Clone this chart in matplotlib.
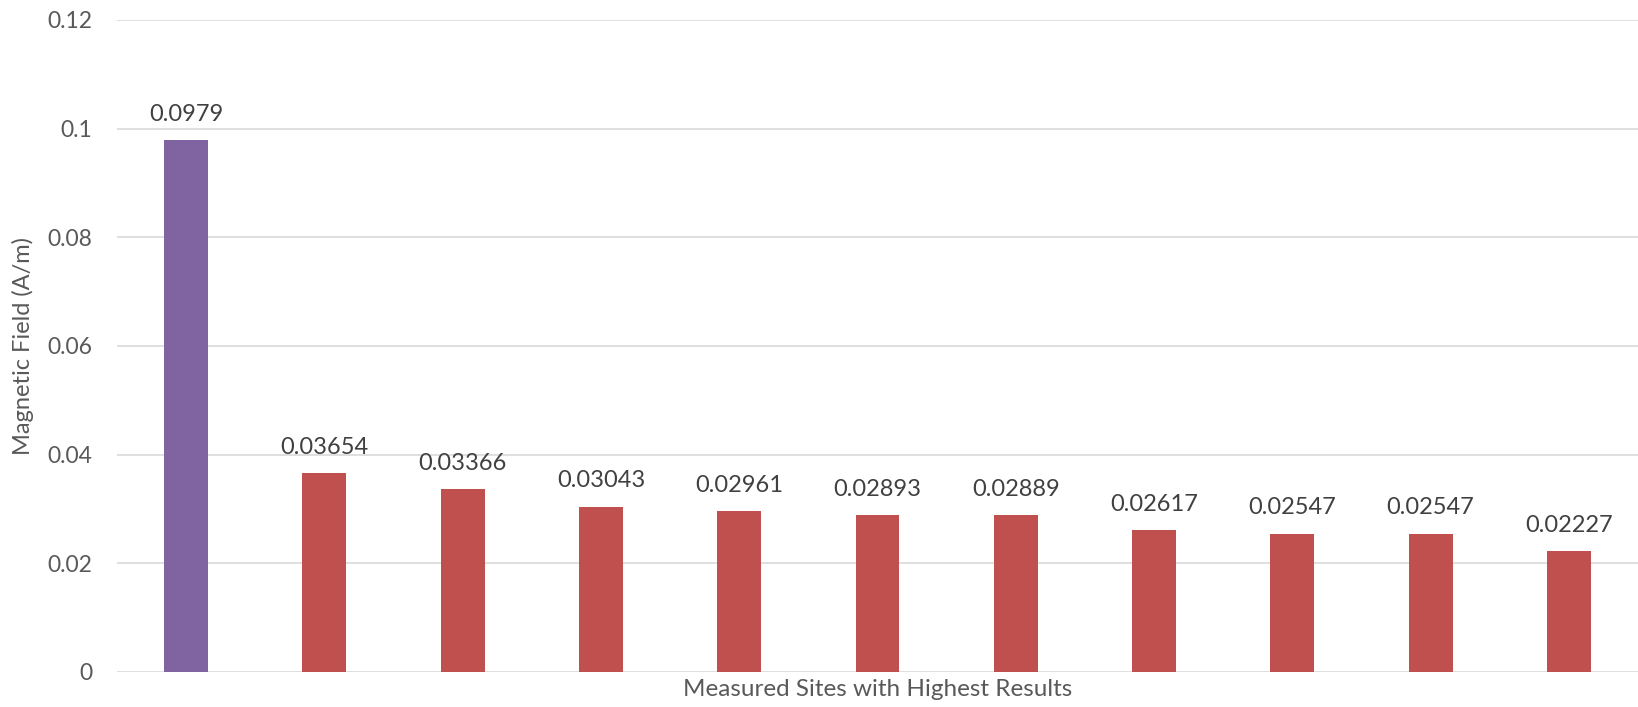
import matplotlib
matplotlib.use("Agg")
import matplotlib.pyplot as plt

# Site values (A/m), ordered from highest to lowest
sites = [f"Site {i}" for i in range(1, 12)]
values = [0.0979, 0.03654, 0.03366, 0.03043, 0.02961, 0.02893,
          0.02889, 0.02617, 0.02547, 0.02547, 0.02227]
labels = ["0.0979", "0.03654", "0.03366", "0.03043", "0.02961", "0.02893",
          "0.02889", "0.02617", "0.02547", "0.02547", "0.02227"]
y_ticks = [0, 0.02, 0.04, 0.06, 0.08, 0.1, 0.12]
y_tick_labels = ["0", "0.02", "0.04", "0.06", "0.08", "0.1", "0.12"]

plt.rcParams["font.family"] = ["Lato", "DejaVu Sans"]

W, H = 1638, 707
fig = plt.figure(figsize=(W / 100, H / 100), dpi=100)
ax = fig.add_axes([117 / W, 35 / H, 1 - 117 / W, (672 - 20) / H])

colors = ["#8064A2"] + ["#C0504D"] * (len(values) - 1)
x = list(range(len(values)))
bars = ax.bar(x, values, width=0.318, color=colors, zorder=3)

for xi, v, lab in zip(x, values, labels):
    ax.annotate(lab, (xi, v), xytext=(0, 11), textcoords="offset points",
                ha="center", va="bottom", fontsize=17, color="#404040")

ax.set_xlim(-0.5, len(values) - 0.5)
ax.set_ylim(0, 0.12)
ax.set_yticks(y_ticks)
ax.set_yticklabels(y_tick_labels)
ax.set_xticks([])
ax.tick_params(axis="y", length=0, pad=18, labelsize=16.5, labelcolor="#595959")
ax.grid(axis="y", color="#D9D9D9", linewidth=1.2, zorder=0)
for s in ax.spines.values():
    s.set_visible(False)

ax.set_ylabel("Magnetic Field (A/m)", fontsize=17, color="#595959")
ax.yaxis.set_label_coords(-83 / (W - 117), 0.5)
ax.set_xlabel("Measured Sites with Highest Results", fontsize=17.5, color="#595959",
              labelpad=5)

fig.savefig("out.png", dpi=100, facecolor="white")
